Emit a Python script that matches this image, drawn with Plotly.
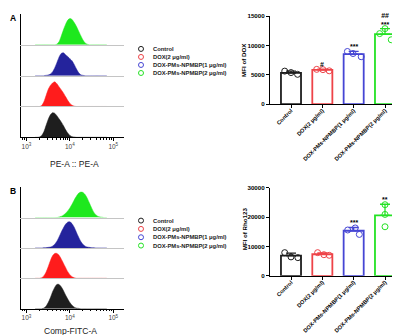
import plotly.graph_objects as go

W, H = 400, 335
FONT = "Liberation Sans, Arial, Helvetica, sans-serif"

# ---------------- data ----------------
GROUPS = ["Control", "DOX(2 μg/ml)", "DOX-PMs-NPMBP(1 μg/ml)", "DOX-PMs-NPMBP(2 μg/ml)"]

# histogram bins (log10 of fluorescence) and relative counts (% of band height)
LOG_BINS = [3.20, 3.25, 3.30, 3.35, 3.40, 3.45, 3.50, 3.55, 3.60, 3.65, 3.70, 3.75,
            3.80, 3.85, 3.90, 3.95, 4.00, 4.05, 4.10, 4.15, 4.20, 4.25, 4.30, 4.35,
            4.40, 4.45, 4.50, 4.55, 4.60, 4.65, 4.70, 4.75, 4.80, 4.85]

HIST_A_CONTROL = [0, 0, 1, 6, 18, 38, 58, 73, 80, 78, 70, 60, 50, 38, 25, 14, 6, 2, 1,
                  0, 0, 0, 0, 0, 0, 0, 0, 0, 0, 0, 0, 0, 0, 0]
HIST_A_DOX = [0, 0, 0, 3, 15, 35, 55, 68, 76, 80, 74, 64, 54, 44, 32, 20, 10, 4, 1,
              0, 0, 0, 0, 0, 0, 0, 0, 0, 0, 0, 0, 0, 0, 0]
HIST_A_NP1 = [0, 0, 0, 0, 0, 1, 2, 5, 12, 25, 42, 60, 72, 74, 68, 62, 55, 48, 36, 22, 10, 3, 1,
              0, 0, 0, 0, 0, 0, 0, 0, 0, 0, 0, 0]
HIST_A_NP2 = [0, 0, 0, 0, 0, 0, 0, 0, 0, 0,
              2, 10, 28, 48, 66, 80, 85, 82, 72, 60, 45, 30, 16, 6, 2,
              0, 0, 0, 0, 0, 0, 0, 0, 0]

HIST_B_CONTROL = [0, 0, 0, 0,
                  2, 8, 20, 36, 55, 70, 80, 80, 72, 60, 45, 32, 20, 11, 5, 2, 1,
                  0, 0, 0, 0, 0, 0, 0, 0, 0, 0, 0, 0, 0]
HIST_B_DOX = [0, 0, 0, 2, 8, 20, 38, 58, 74, 82, 82, 76, 64, 50, 36, 22, 12, 5, 2,
              0, 0, 0, 0, 0, 0, 0, 0, 0, 0, 0, 0, 0, 0, 0]
HIST_B_NP1 = [0, 0, 0, 0,
              1, 1, 2, 3, 6, 12, 22, 36, 52, 66, 78, 85, 86, 80, 68, 52, 36, 22, 12, 6, 3, 2, 1, 1,
              0, 0, 0, 0, 0, 0]
HIST_B_NP2 = [0, 0, 0, 0, 0, 0, 0, 0, 0, 0, 0,
              2, 4, 8, 14, 22, 32, 44, 58, 70, 80, 84, 83, 76, 64, 48, 32, 18, 9, 4, 2, 1,
              0, 0]

HIST_TICKS = [1e3, 1e4, 1e5]
HIST_TICKTEXT = ["10<sup>3</sup>", "10<sup>4</sup>", "10<sup>5</sup>"]

# bar charts: MFI mean, SD, individual replicates, significance marks
MEANS_A = [5350, 5850, 8550, 11950]
SD_A = [300, 150, 480, 950]
POINTS_A = [[5650, 5400, 5100], [5950, 5900, 5700], [9000, 8650, 8100], [12050, 12900, 11000]]
SIG_A = ["", "#", "***", "##<br>***"]
YTICKS_A = [0, 5000, 10000, 15000]

MEANS_B = [6850, 7350, 15350, 20600]
SD_B = [850, 450, 1100, 3750]
POINTS_B = [[7900, 6450, 6200], [7900, 7200, 7000], [15600, 16300, 14100], [24200, 20900, 16700]]
SIG_B = ["", "", "***", "**"]
YTICKS_B = [0, 10000, 20000, 30000]

# ---------------- styles ----------------
HIST_COLORS = ["#1e1e1e", "#ff1c1c", "#24239c", "#1ee81e"]
BAR_COLORS = ["#1e1e1e", "#ee4348", "#4646d4", "#24e224"]
OFFSETS_A = [[-0.2, 0.0, 0.21], [-0.18, 0.02, 0.22], [-0.2, -0.02, 0.24], [-0.17, 0.0, 0.2]]
OFFSETS_B = [[-0.2, 0.0, 0.22], [-0.15, 0.05, 0.22], [-0.19, 0.05, 0.18], [0.0, 0.0, 0.0]]
MINOR_TICKS = [m * 10 ** e for e in (2, 3, 4) for m in range(2, 10)]


def fx(p):
    return p / W


def fy(p):
    return 1 - p / H


fig = go.Figure()
axes_layout = {}
annotations = []
counter = {"n": 0}


def next_axes():
    counter["n"] += 1
    n = counter["n"]
    s = "" if n == 1 else str(n)
    return "x" + s, "y" + s, "xaxis" + s, "yaxis" + s


def hist_panel(series, band_edges):
    for k, (vals, color) in enumerate(zip(series, HIST_COLORS)):
        xs, ys, xn, yn = next_axes()
        fig.add_trace(go.Scatter(
            x=[10 ** b for b in LOG_BINS], y=vals, mode="lines", fill="tozeroy",
            fillcolor=color, line=dict(color=color, width=0.5, shape="spline", smoothing=0.6),
            xaxis=xs, yaxis=ys, hoverinfo="skip"))
        xa = dict(domain=[fx(12.5), fx(116)], type="log", range=[2.862, 5.247], anchor=ys,
                  showgrid=False, zeroline=False, showline=True, fixedrange=True)
        if k == 0:
            xa.update(linecolor="black", linewidth=1, ticks="outside", ticklen=3, tickwidth=1,
                      tickcolor="black", tickmode="array", tickvals=HIST_TICKS, ticktext=HIST_TICKTEXT,
                      tickfont=dict(family=FONT, size=6.5, color="#444"),
                      minor=dict(ticks="outside", ticklen=1.8, tickwidth=0.7, tickcolor="black",
                                 tickmode="array", tickvals=MINOR_TICKS, showgrid=False))
        else:
            xa.update(linecolor="#c4c4c4", linewidth=0.8, showticklabels=False, ticks="")
        ya = dict(domain=[fy(band_edges[k]), fy(band_edges[k + 1])], range=[0, 100], anchor=xs,
                  showline=True, linecolor="black", linewidth=1, showticklabels=False, ticks="",
                  showgrid=False, zeroline=False, fixedrange=True)
        axes_layout[xn] = xa
        axes_layout[yn] = ya


def legend_panel(top_px, row_h):
    xs, ys, xn, yn = next_axes()
    fig.add_trace(go.Scatter(
        x=[5] * len(GROUPS), y=list(range(len(GROUPS))), mode="markers",
        marker=dict(symbol="circle-open", size=5, color=BAR_COLORS, line=dict(width=1)),
        xaxis=xs, yaxis=ys, hoverinfo="skip"))
    for i, g in enumerate(GROUPS):
        annotations.append(dict(x=15, y=i, xref=xs, yref=ys, text=g, showarrow=False,
                                xanchor="left", yanchor="middle",
                                font=dict(family=FONT, size=5.8, color="#222", weight="bold")))
    axes_layout[xn] = dict(domain=[fx(128), fx(228)], range=[0, 100], visible=False, anchor=ys)
    axes_layout[yn] = dict(domain=[fy(top_px + row_h * 4), fy(top_px)], range=[3.5, -0.5],
                           visible=False, anchor=xs)


def bar_panel(means, sds, points, offsets, sig, y_top, y_bot, yticks, ytitle, ytitle_y):
    xs, ys, xn, yn = next_axes()
    for i in range(len(GROUPS)):
        c = BAR_COLORS[i]
        fig.add_trace(go.Bar(
            x=[i], y=[means[i]], width=0.64,
            marker=dict(color="white", line=dict(color=c, width=1.8)),
            error_y=dict(type="data", symmetric=False, array=[sds[i]], arrayminus=[0],
                         color=c, thickness=1.3, width=5),
            xaxis=xs, yaxis=ys, hoverinfo="skip"))
    for i in range(len(GROUPS)):
        c = BAR_COLORS[i]
        fig.add_trace(go.Scatter(
            x=[i + o for o in offsets[i]], y=points[i], mode="markers",
            marker=dict(symbol="circle-open", size=6, color=c, line=dict(width=1)),
            xaxis=xs, yaxis=ys, hoverinfo="skip"))
        if sig[i]:
            annotations.append(dict(x=i, y=means[i] + sds[i], xref=xs, yref=ys, text=sig[i],
                                    showarrow=False, yanchor="bottom", yshift=-1,
                                    font=dict(family=FONT, size=7, color="black", weight="bold")))
    axes_layout[xn] = dict(domain=[fx(262), fx(398)], range=[-0.67, 3.67], anchor=ys,
                           tickmode="array", tickvals=list(range(len(GROUPS))), ticktext=GROUPS,
                           tickangle=-45, ticks="outside", ticklen=3, tickwidth=1, tickcolor="black",
                           ticklabelstandoff=-3,
                           showline=True, linecolor="black", linewidth=1.2, showgrid=False,
                           zeroline=False, fixedrange=True,
                           tickfont=dict(family=FONT, size=5.6, color="black", weight="bold"))
    axes_layout[yn] = dict(domain=[fy(y_bot), fy(y_top)], range=[0, yticks[-1]], anchor=xs,
                           tickmode="array", tickvals=yticks, tickformat="d",
                           ticks="outside", ticklen=3, tickwidth=1, tickcolor="black",
                           showline=True, linecolor="black", linewidth=1.2, showgrid=False,
                           zeroline=False, fixedrange=True,
                           tickfont=dict(family=FONT, size=6.2, color="black", weight="bold"))
    annotations.append(dict(x=fx(236), y=fy(ytitle_y), xref="paper", yref="paper", text=ytitle,
                            textangle=-90, showarrow=False, xanchor="center", yanchor="middle",
                            font=dict(family=FONT, size=6.2, color="black", weight="bold")))


# Panel A
hist_panel([HIST_A_CONTROL, HIST_A_DOX, HIST_A_NP1, HIST_A_NP2], [128, 96.5, 65, 33.5, 2])
legend_panel(33.6, 8.2)
bar_panel(MEANS_A, SD_A, POINTS_A, OFFSETS_A, SIG_A, 4.4, 94.2, YTICKS_A, "MFI of DOX", 49)

# Panel B
hist_panel([HIST_B_CONTROL, HIST_B_DOX, HIST_B_NP1, HIST_B_NP2], [303, 272, 241, 210, 179])
legend_panel(208.8, 8.5)
bar_panel(MEANS_B, SD_B, POINTS_B, OFFSETS_B, SIG_B, 179.4, 269.5, YTICKS_B, "MFI of Rho123", 222)

for txt, x, y in [("A", 4.5, 6), ("B", 4.5, 183)]:
    annotations.append(dict(x=fx(x), y=fy(y), xref="paper", yref="paper", text=txt, showarrow=False,
                            xanchor="center", yanchor="middle",
                            font=dict(family=FONT, size=8.5, color="black", weight="bold")))
for txt, x, y in [("PE-A :: PE-A", 66, 155), ("Comp-FITC-A", 62, 326)]:
    annotations.append(dict(x=fx(x), y=fy(y), xref="paper", yref="paper", text=txt, showarrow=False,
                            xanchor="center", yanchor="middle",
                            font=dict(family=FONT, size=8.5, color="#222")))

fig.update_layout(
    width=W, height=H, margin=dict(l=0, r=0, t=0, b=0),
    paper_bgcolor="white", plot_bgcolor="white", showlegend=False, barmode="overlay",
    annotations=annotations, **axes_layout)

fig.write_html("out.html")
